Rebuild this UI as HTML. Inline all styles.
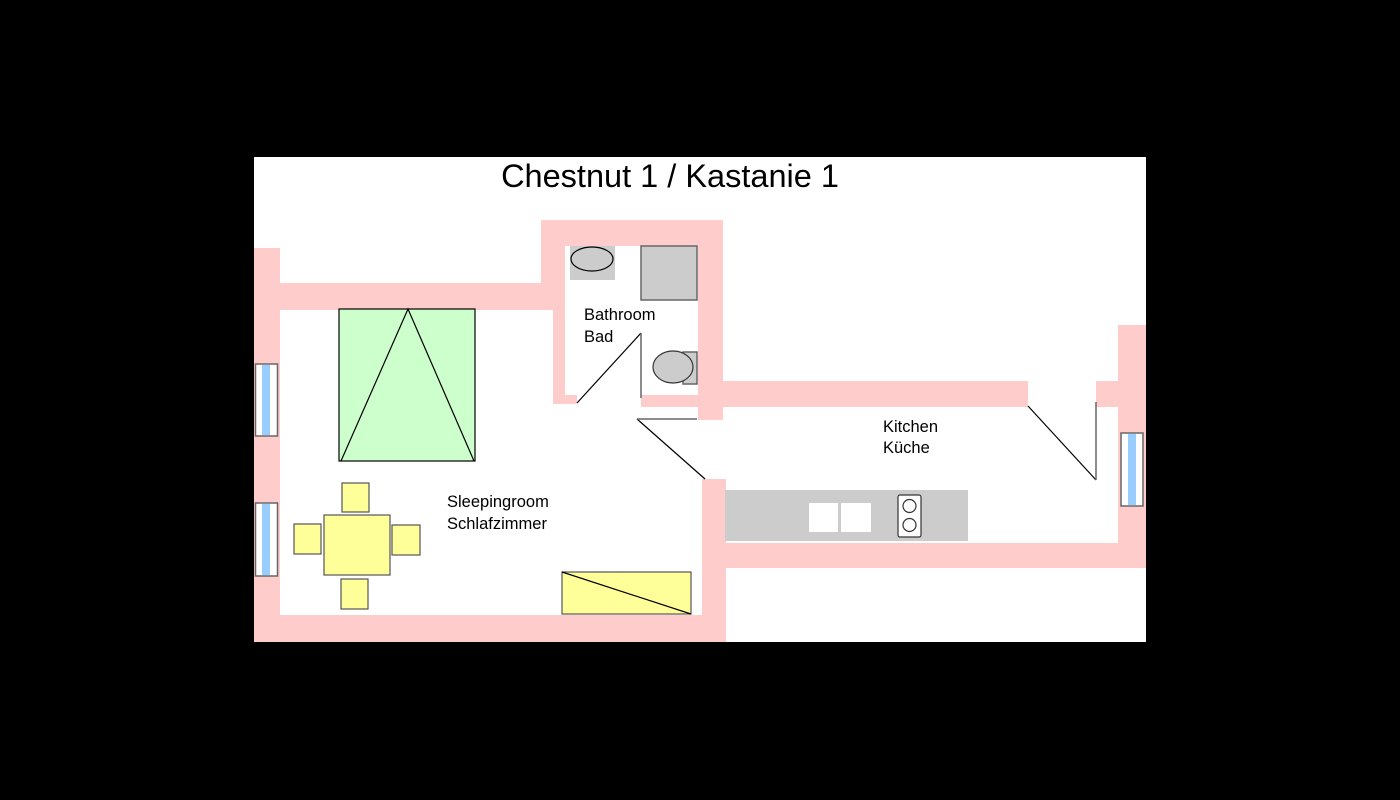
<!DOCTYPE html>
<html><head><meta charset="utf-8"><style>
html,body{margin:0;padding:0;background:#000;}
svg{display:block;}
text{font-family:"Liberation Sans",sans-serif;fill:#000;}
</style></head><body>
<svg width="1400" height="800" viewBox="0 0 1400 800" xmlns="http://www.w3.org/2000/svg">
<rect width="1400" height="800" fill="#000"/>
<rect x="254" y="157" width="892" height="485" fill="#fff"/>
<text x="670" y="187" font-size="32.5" text-anchor="middle">Chestnut 1 / Kastanie 1</text>
<g fill="#ffcccc">
<rect x="254" y="248" width="26" height="394"/>
<rect x="254" y="283" width="305" height="27"/>
<rect x="541" y="220" width="24" height="90"/>
<rect x="553" y="283" width="12" height="121"/>
<rect x="541" y="220" width="182" height="26"/>
<rect x="698" y="220" width="25" height="200"/>
<rect x="553" y="395" width="24" height="9"/>
<rect x="641" y="395" width="57" height="12"/>
<rect x="723" y="381" width="305" height="26"/>
<rect x="1096" y="381" width="24" height="26"/>
<rect x="1118" y="325" width="28" height="243"/>
<rect x="702" y="479" width="24" height="163"/>
<rect x="726" y="543" width="420" height="25"/>
<rect x="254" y="615" width="472" height="27"/>
</g>
<g stroke="#666" stroke-width="1.5">
<rect x="255.5" y="364" width="22" height="72" fill="#fff"/>
<rect x="255.5" y="503" width="22" height="73" fill="#fff"/>
<rect x="1121" y="433" width="22" height="73" fill="#fff"/>
</g>
<rect x="262" y="365" width="8" height="70" fill="#99ccff"/>
<rect x="262" y="504" width="8" height="71" fill="#99ccff"/>
<rect x="1128" y="434" width="8" height="71" fill="#99ccff"/>
<g stroke="#000" stroke-width="1.2" fill="none">
<line x1="577" y1="403" x2="641" y2="333"/>
<line x1="637" y1="419" x2="705" y2="479"/>
<line x1="1028" y1="406" x2="1096" y2="480"/>
</g>
<g stroke="#666" stroke-width="1.5">
<line x1="641" y1="333" x2="641" y2="398"/>
<line x1="637" y1="419" x2="697" y2="419"/>
<line x1="1096" y1="402" x2="1096" y2="480"/>
</g>
<rect x="339" y="309" width="136" height="152" fill="#ccffcc" stroke="#000" stroke-width="1.2"/>
<polyline points="341,461 408,309 474,461" fill="none" stroke="#000" stroke-width="1.2"/>
<g fill="#ffff99" stroke="#555" stroke-width="1.2">
<rect x="324" y="515" width="66" height="60"/>
<rect x="342" y="483" width="27" height="29"/>
<rect x="294" y="524" width="27" height="30"/>
<rect x="392" y="525" width="28" height="30"/>
<rect x="341" y="579" width="27" height="30"/>
<rect x="562" y="572" width="129" height="42"/>
</g>
<line x1="562" y1="572" x2="691" y2="614" stroke="#000" stroke-width="1.2"/>
<rect x="570" y="246" width="45" height="34" fill="#ccc"/>
<ellipse cx="592" cy="259" rx="21" ry="12" fill="#ccc" stroke="#000" stroke-width="1.2"/>
<rect x="641" y="246" width="56" height="54" fill="#ccc" stroke="#666" stroke-width="1.5"/>
<rect x="683" y="352" width="14" height="32" fill="#ccc" stroke="#666" stroke-width="1.5"/>
<ellipse cx="673" cy="367" rx="20" ry="16" fill="#ccc" stroke="#333" stroke-width="1.2"/>
<rect x="725" y="490" width="243" height="51" fill="#ccc"/>
<rect x="809" y="503" width="29" height="29" fill="#fff"/>
<rect x="841" y="503" width="30" height="29" fill="#fff"/>
<rect x="898" y="495" width="23" height="42" rx="2" fill="#fff" stroke="#333" stroke-width="1.2"/>
<circle cx="909.5" cy="506" r="6.5" fill="#fff" stroke="#333" stroke-width="1.2"/>
<circle cx="909.5" cy="525" r="6.5" fill="#fff" stroke="#333" stroke-width="1.2"/>
<g font-size="16.5">
<text x="584" y="320">Bathroom</text>
<text x="584" y="342">Bad</text>
<text x="447" y="507">Sleepingroom</text>
<text x="447" y="529">Schlafzimmer</text>
<text x="883" y="432">Kitchen</text>
<text x="883" y="453">Küche</text>
</g>
</svg>
</body></html>
